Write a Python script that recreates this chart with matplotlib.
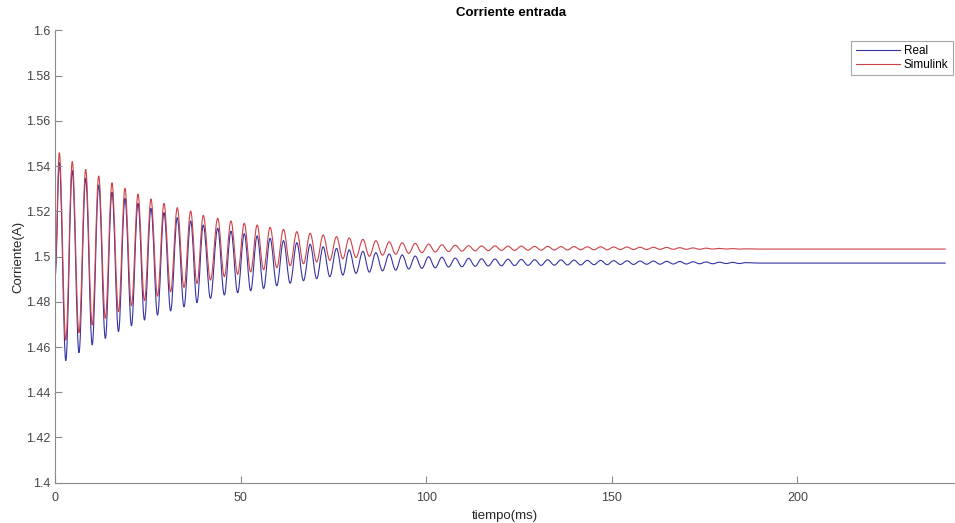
import numpy as np
import matplotlib
matplotlib.use("Agg")
import matplotlib.pyplot as plt
import matplotlib.ticker as mticker
from matplotlib.path import Path
from matplotlib.patches import PathPatch
from matplotlib.lines import Line2D

plt.rcParams.update({
    "font.family": ["Liberation Sans", "DejaVu Sans"],
    "font.size": 9,
})

# ── Data: times (ms) and values (A) of each extremum ──
peak_t = [1.08, 4.58, 8.19, 11.70, 15.28, 18.78, 22.29, 25.79, 29.30, 32.88,
          36.49, 39.89, 43.77, 47.35, 50.94, 54.40, 57.90, 61.50, 65.10, 68.70,
          72.20, 75.80, 79.20, 82.90, 86.40, 90.00, 93.50, 97.00, 100.60, 104.20,
          107.80, 111.40, 114.9, 118.5, 122.0, 125.6, 129.2, 132.7, 136.3, 139.8,
          143.4, 147.0, 150.5, 154.1, 157.6, 161.2, 164.8, 168.3, 171.9, 175.4,
          179.0, 182.6, 186.1]
trough_t = [2.83, 6.38, 9.95, 13.49, 17.03, 20.53, 24.04, 27.55, 31.09, 34.69,
            38.19, 41.83, 45.56, 49.15, 52.67, 56.15, 59.70, 63.30, 66.90, 70.45,
            74.00, 77.50, 81.05, 84.65, 88.20, 91.75, 95.25, 98.80, 102.40, 106.00,
            109.60, 113.15, 116.7, 120.25, 123.8, 127.4, 130.95, 134.5, 138.05, 141.6,
            145.2, 148.75, 152.3, 155.85, 159.4, 163.0, 166.55, 170.1, 173.65, 177.2,
            180.8, 184.35]

sim_peaks = [1.5459, 1.5420, 1.5385, 1.5356, 1.5326, 1.5301, 1.5276, 1.5254, 1.5235, 1.5216,
             1.5201, 1.5182, 1.5169, 1.5157, 1.5147, 1.5139, 1.5129, 1.5120, 1.5110, 1.5103,
             1.5095, 1.5088, 1.5082, 1.5076, 1.5070, 1.5065, 1.5061, 1.5058, 1.5055, 1.5052,
             1.5050, 1.5048, 1.5047, 1.5047, 1.5046, 1.5046, 1.5045, 1.5045, 1.5044, 1.5044,
             1.5043, 1.5043, 1.5042, 1.5042, 1.5041, 1.5041, 1.5040, 1.5039, 1.5038, 1.5037,
             1.5036, 1.5035, 1.5034]
sim_troughs = [1.4630, 1.4663, 1.4697, 1.4727, 1.4756, 1.4782, 1.4805, 1.4825, 1.4844, 1.4864,
               1.4881, 1.4896, 1.4911, 1.4922, 1.4932, 1.4942, 1.4951, 1.4960, 1.4968, 1.4976,
               1.4983, 1.4990, 1.4996, 1.5001, 1.5006, 1.5010, 1.5014, 1.5017, 1.5020, 1.5022,
               1.5024, 1.5025, 1.5026, 1.5027, 1.5027, 1.5028, 1.5028, 1.5029, 1.5029, 1.5030,
               1.5030, 1.5030, 1.5031, 1.5031, 1.5031, 1.5032, 1.5032, 1.5032, 1.5032, 1.5033,
               1.5033, 1.5033]

real_peaks = [1.5415, 1.5380, 1.5346, 1.5316, 1.5284, 1.5257, 1.5235, 1.5213, 1.5194, 1.5172,
              1.5157, 1.5139, 1.5125, 1.5112, 1.5101, 1.5091, 1.5080, 1.5070, 1.5061, 1.5054,
              1.5043, 1.5036, 1.5029, 1.5023, 1.5017, 1.5011, 1.5007, 1.5002, 1.4999, 1.4997,
              1.4993, 1.4992, 1.4990, 1.4989, 1.4988, 1.4987, 1.4986, 1.4986, 1.4985, 1.4984,
              1.4983, 1.4983, 1.4982, 1.4981, 1.4980, 1.4980, 1.4979, 1.4978, 1.4977, 1.4976,
              1.4975, 1.4974, 1.4973]
real_troughs = [1.4540, 1.4575, 1.4609, 1.4638, 1.4668, 1.4694, 1.4719, 1.4741, 1.4760, 1.4778,
                1.4796, 1.4815, 1.4830, 1.4840, 1.4849, 1.4859, 1.4871, 1.4882, 1.4893, 1.4902,
                1.4911, 1.4918, 1.4926, 1.4931, 1.4937, 1.4940, 1.4945, 1.4948, 1.4950, 1.4954,
                1.4955, 1.4957, 1.4958, 1.4959, 1.4960, 1.4961, 1.4961, 1.4962, 1.4963, 1.4963,
                1.4964, 1.4964, 1.4965, 1.4965, 1.4966, 1.4966, 1.4967, 1.4967, 1.4968, 1.4968,
                1.4969, 1.4969]

start_t = 0.0
real_start, sim_start = 1.492, 1.497
steady_t = [189.7, 240.0]
real_steady, sim_steady = 1.4971, 1.5033

REAL_COLOR = "#3434a4"
SIM_COLOR = "#cf4148"


def build_points(start, peaks, troughs, steady):
    pts = [(start_t, start)]
    for i, (tp, vp) in enumerate(zip(peak_t, peaks)):
        pts.append((tp, vp))
        if i < len(troughs):
            pts.append((trough_t[i], troughs[i]))
    for ts in steady_t:
        pts.append((ts, steady))
    return pts


def smooth_path(pts, k=0.36):
    # extrema joined by cubic segments with flat tangents (sine-like look)
    verts = [pts[0]]
    codes = [Path.MOVETO]
    for (t0, y0), (t1, y1) in zip(pts[:-1], pts[1:]):
        dt = t1 - t0
        verts += [(t0 + k * dt, y0), (t1 - k * dt, y1), (t1, y1)]
        codes += [Path.CURVE4] * 3
    return Path(verts, codes)


fig = plt.figure(figsize=(9.55, 5.23), dpi=100)
ax = fig.add_axes([0.0579, 0.077, 0.9421, 0.865])

for start, pk, tr, st, col in [(real_start, real_peaks, real_troughs, real_steady, REAL_COLOR),
                               (sim_start, sim_peaks, sim_troughs, sim_steady, SIM_COLOR)]:
    path = smooth_path(build_points(start, pk, tr, st))
    ax.add_patch(PathPatch(path, fill=False, edgecolor=col, lw=0.8))

ax.set_xlim(0, 242.5)
ax.set_ylim(1.4, 1.6)
ax.xaxis.set_major_locator(mticker.MultipleLocator(50))
ax.yaxis.set_major_locator(mticker.MultipleLocator(0.02))
ax.yaxis.set_major_formatter(mticker.FuncFormatter(lambda v, _: f"{v:g}"))

gray = "#8a8a8a"
for side in ("top", "right"):
    ax.spines[side].set_visible(False)
for side in ("left", "bottom"):
    ax.spines[side].set_color(gray)
    ax.spines[side].set_linewidth(0.8)
ax.tick_params(direction="in", length=5, width=0.8, color=gray,
               labelcolor="#454545", labelsize=9)
ax.tick_params(axis="x", pad=7)

ax.set_title("Corriente entrada", fontsize=9.5, fontweight="bold", x=0.507, pad=10)
ax.set_xlabel("tiempo(ms)", fontsize=9.5, color="#262626", labelpad=4)
ax.set_ylabel("Corriente(A)", fontsize=9.5, color="#262626", labelpad=1)

handles = [Line2D([], [], color=REAL_COLOR, lw=0.8),
           Line2D([], [], color=SIM_COLOR, lw=0.8)]
leg = ax.legend(handles, ["Real", "Simulink"], loc="upper right",
                bbox_to_anchor=(0.9975, 0.976), fontsize=8.5, frameon=True,
                fancybox=False, handlelength=3.8, handletextpad=0.3,
                borderpad=0.35, labelspacing=0.15, borderaxespad=0)
leg.get_frame().set_edgecolor("#909090")
leg.get_frame().set_linewidth(0.8)

fig.savefig("out.png", dpi=100)
